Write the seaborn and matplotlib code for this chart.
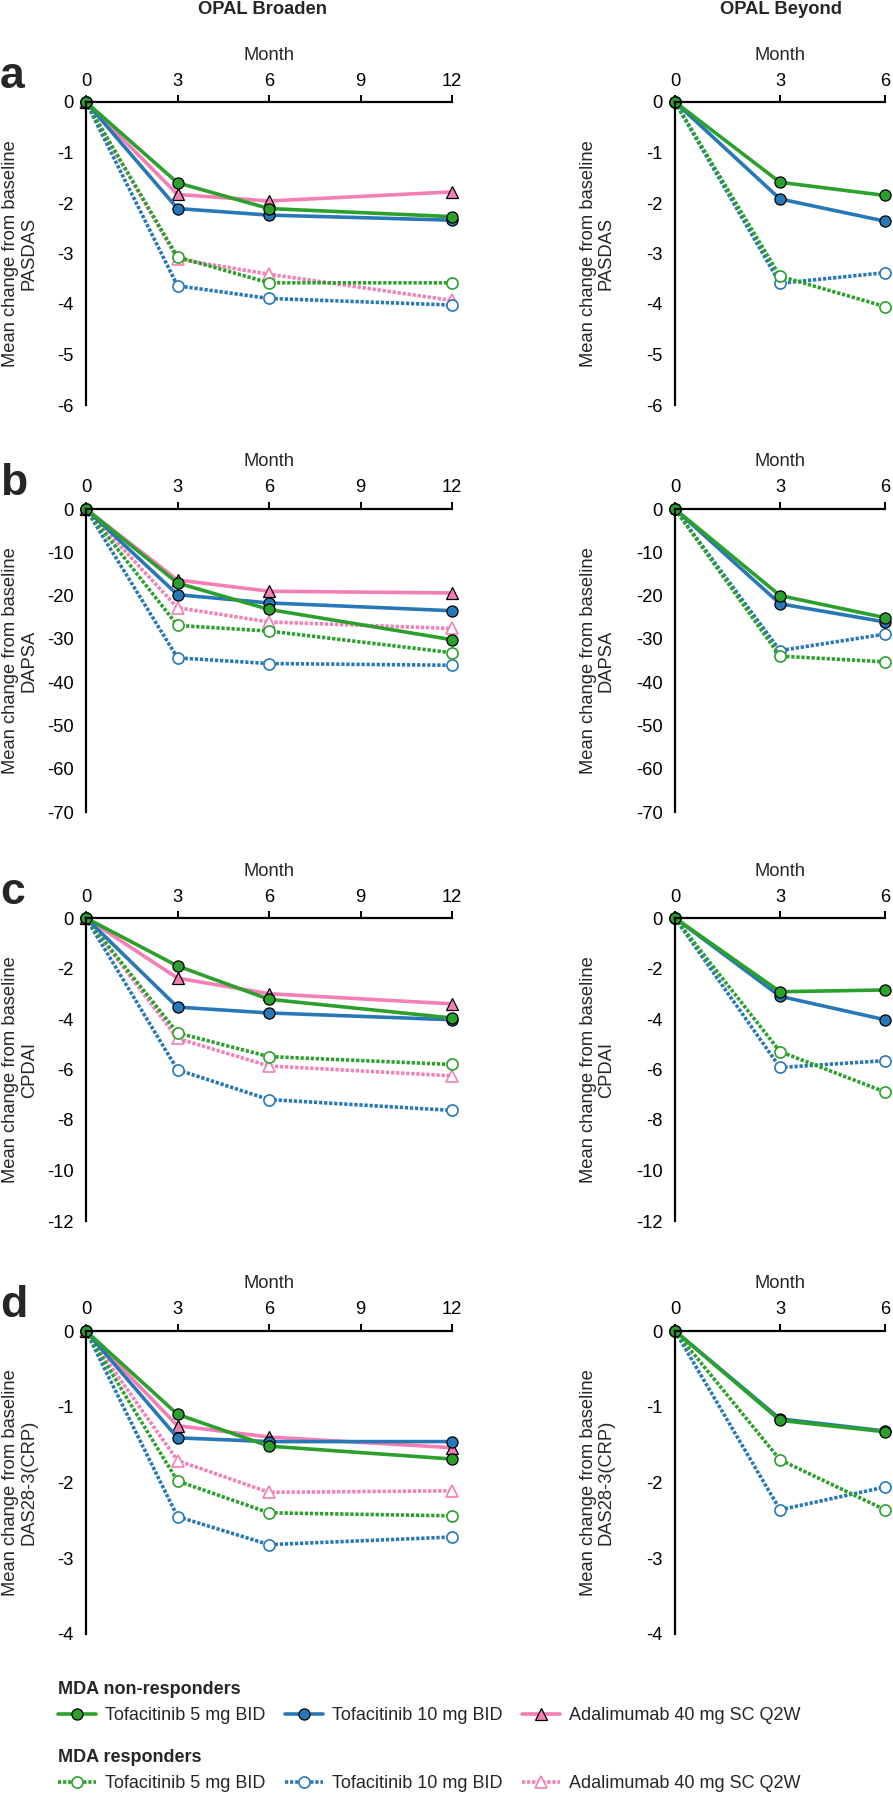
import matplotlib
matplotlib.use("Agg")
import matplotlib.pyplot as plt
from matplotlib.lines import Line2D
import seaborn as sns

sns.set_style("white")
plt.rcParams["font.family"] = ["Liberation Sans", "DejaVu Sans"]
plt.rcParams["axes.unicode_minus"] = False

# x values
months_broaden = [0, 3, 6, 12]
months_beyond = [0, 3, 6]

# series keys: t5 = Tofacitinib 5 mg BID, t10 = Tofacitinib 10 mg BID, ada = Adalimumab
treatment_labels = {"t5": "Tofacitinib 5 mg BID",
                    "t10": "Tofacitinib 10 mg BID",
                    "ada": "Adalimumab 40 mg SC Q2W"}

# PASDAS
pasdas_broaden_nr = {"ada": [0, -1.83, -1.96, -1.78], "t10": [0, -2.11, -2.24, -2.34], "t5": [0, -1.60, -2.11, -2.27]}
pasdas_broaden_r = {"ada": [0, -3.11, -3.41, -3.93], "t10": [0, -3.64, -3.89, -4.02], "t5": [0, -3.07, -3.58, -3.58]}
pasdas_beyond_nr = {"t10": [0, -1.92, -2.36], "t5": [0, -1.59, -1.85]}
pasdas_beyond_r = {"t10": [0, -3.59, -3.38], "t5": [0, -3.45, -4.05]}

# DAPSA
dapsa_broaden_nr = {"ada": [0, -16.4, -19.0, -19.4], "t10": [0, -19.8, -21.7, -23.5], "t5": [0, -17.1, -23.2, -30.2]}
dapsa_broaden_r = {"ada": [0, -22.8, -26.1, -27.6], "t10": [0, -34.4, -35.7, -36.1], "t5": [0, -26.9, -28.2, -33.2]}
dapsa_beyond_nr = {"t10": [0, -21.9, -26.1], "t5": [0, -20.0, -25.1]}
dapsa_beyond_r = {"t10": [0, -32.7, -28.9], "t5": [0, -34.0, -35.3]}

# CPDAI
cpdai_broaden_nr = {"ada": [0, -2.38, -3.0, -3.40], "t10": [0, -3.53, -3.76, -4.03], "t5": [0, -1.90, -3.22, -3.96]}
cpdai_broaden_r = {"ada": [0, -4.77, -5.86, -6.25], "t10": [0, -6.01, -7.19, -7.62], "t5": [0, -4.55, -5.49, -5.80]}
cpdai_beyond_nr = {"t10": [0, -3.10, -4.03], "t5": [0, -2.92, -2.85]}
cpdai_beyond_r = {"t10": [0, -5.92, -5.65], "t5": [0, -5.29, -6.89]}

# DAS28-3(CRP)
das28_broaden_nr = {"ada": [0, -1.25, -1.40, -1.54], "t10": [0, -1.41, -1.46, -1.46], "t5": [0, -1.10, -1.52, -1.69]}
das28_broaden_r = {"ada": [0, -1.71, -2.13, -2.11], "t10": [0, -2.45, -2.82, -2.72], "t5": [0, -1.98, -2.40, -2.44]}
das28_beyond_nr = {"t10": [0, -1.16, -1.32], "t5": [0, -1.18, -1.33]}
das28_beyond_r = {"t10": [0, -2.36, -2.06], "t5": [0, -1.70, -2.36]}

panels = [
    ("a", "PASDAS", [0, -1, -2, -3, -4, -5, -6],
     (pasdas_broaden_nr, pasdas_broaden_r), (pasdas_beyond_nr, pasdas_beyond_r)),
    ("b", "DAPSA", [0, -10, -20, -30, -40, -50, -60, -70],
     (dapsa_broaden_nr, dapsa_broaden_r), (dapsa_beyond_nr, dapsa_beyond_r)),
    ("c", "CPDAI", [0, -2, -4, -6, -8, -10, -12],
     (cpdai_broaden_nr, cpdai_broaden_r), (cpdai_beyond_nr, cpdai_beyond_r)),
    ("d", "DAS28-3(CRP)", [0, -1, -2, -3, -4],
     (das28_broaden_nr, das28_broaden_r), (das28_beyond_nr, das28_beyond_r)),
]

colors = {"t5": "#2ca02c", "t10": "#2878b8", "ada": "#f47fb4"}
markers = {"t5": "o", "t10": "o", "ada": "^"}
dotted = (0, (0.9, 0.5))
lw = 2.6
ms = 8


def style(key, responder):
    if responder:
        return dict(color=colors[key], linestyle=dotted, lw=lw, marker=markers[key],
                    markersize=ms, markerfacecolor="white", markeredgecolor=colors[key],
                    markeredgewidth=1.2, dash_capstyle="butt")
    return dict(color=colors[key], linestyle="-", lw=lw, marker=markers[key],
                markersize=ms, markerfacecolor=colors[key], markeredgecolor="black",
                markeredgewidth=0.9)


W, H = 893, 1793
fig = plt.figure(figsize=(W / 100, H / 100), dpi=100)

tops = [102, 509, 918, 1331]
ax_h = 303
fs = 13.2

for (letter, measure, yticks, broaden, beyond), top in zip(panels, tops):
    bottom = (H - top - ax_h) / H
    specs = [(86, 366, months_broaden, [0, 3, 6, 9, 12], broaden, -0.18),
             (675, 210, months_beyond, [0, 3, 6], beyond, -0.37)]
    for left, width, months, xticks, (nr, r), lab_x in specs:
        ax = fig.add_axes([left / W, bottom, width / W, ax_h / H])
        for data, resp in ((r, True), (nr, False)):
            for key, vals in data.items():
                sns.lineplot(x=months, y=vals, ax=ax, clip_on=False, **style(key, resp))
        ax.set_xlim(0, months[-1])
        ax.set_ylim(yticks[-1], 0)
        ax.set_xticks(xticks)
        ax.set_xticklabels([str(v) for v in xticks])
        ax.set_yticks(yticks)
        ax.set_yticklabels([str(v) for v in yticks])
        ax.xaxis.tick_top()
        ax.xaxis.set_label_position("top")
        for s in ["right", "bottom"]:
            ax.spines[s].set_visible(False)
        for s in ["left", "top"]:
            ax.spines[s].set_linewidth(1.6)
            ax.spines[s].set_color("black")
        ax.tick_params(axis="both", direction="out", length=5, width=1.4,
                       labelsize=fs, pad=4, colors="black")
        ax.set_xlabel("Month", fontsize=fs, va="center")
        ax.xaxis.set_label_coords(0.5, 1 + 47 / ax_h)
        ax.set_ylabel("Mean change from baseline\n" + measure, fontsize=fs,
                      va="center", linespacing=1.1)
        ax.yaxis.set_label_coords(lab_x, 0.5)
        ax.grid(False)
        if ax.get_legend():
            ax.get_legend().remove()
    fig.text(0, 1 - (top - 14) / H, letter, fontsize=32, fontweight="bold",
             ha="left", va="baseline")

fig.text(262 / W, 1 - 10 / H, "OPAL Broaden", ha="center", va="center",
         fontsize=fs, fontweight="bold")
fig.text(781 / W, 1 - 10 / H, "OPAL Beyond", ha="center", va="center",
         fontsize=fs, fontweight="bold")

# legends
order = ["t5", "t10", "ada"]
for title, resp, y_top in (("MDA non-responders", False, 1681), ("MDA responders", True, 1749)):
    handles = [Line2D([], [], **style(k, resp)) for k in order]
    fig.legend(handles, [treatment_labels[k] for k in order], loc="upper left",
               bbox_to_anchor=(58 / W, 1 - y_top / H), ncol=3, frameon=False,
               title=title, title_fontproperties={"weight": "bold", "size": 13},
               alignment="left", fontsize=13, handlelength=2.1, handletextpad=0.5,
               columnspacing=1.1, borderpad=0, borderaxespad=0)

fig.savefig("out.png", dpi=100)
